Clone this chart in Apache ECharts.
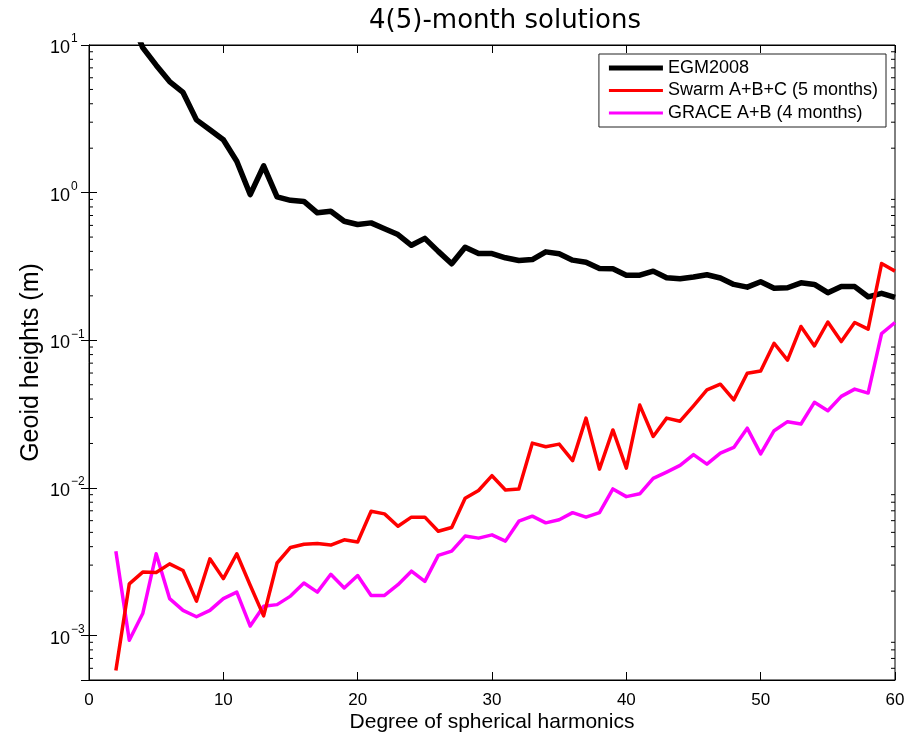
<!DOCTYPE html>
<html>
<head>
<meta charset="utf-8">
<script src="https://cdn.jsdelivr.net/npm/echarts@6/dist/echarts.min.js"></script>
<style>html,body{margin:0;padding:0;background:#fff;}#c{width:917px;height:738px;}</style>
</head>
<body>
<div id="c"></div>
<script>
const titleText = '4(5)-month solutions';
const seriesNames = ['EGM2008', 'Swarm A+B+C (5 months)', 'GRACE A+B (4 months)'];
const degrees = [2,3,4,5,6,7,8,9,10,11,12,13,14,15,16,17,18,19,20,21,22,23,24,25,26,27,28,29,30,31,32,33,34,35,36,37,38,39,40,41,42,43,44,45,46,47,48,49,50,51,52,53,54,55,56,57,58,59,60];
const egm2008 = [40,16,9.6,7.3,5.65,4.77,3.11,2.67,2.28,1.63,0.97,1.52,0.935,0.887,0.872,0.73,0.748,0.64,0.608,0.624,0.57,0.52,0.44,0.49,0.40,0.33,0.427,0.387,0.387,0.362,0.347,0.352,0.397,0.385,0.349,0.338,0.306,0.305,0.276,0.276,0.294,0.265,0.261,0.268,0.278,0.264,0.239,0.229,0.249,0.225,0.227,0.245,0.239,0.21,0.231,0.231,0.197,0.208,0.195];
const swarm = [5.8e-4,2.24e-3,2.69e-3,2.67e-3,3.06e-3,2.76e-3,1.71e-3,3.31e-3,2.43e-3,3.58e-3,2.19e-3,1.36e-3,3.1e-3,3.95e-3,4.15e-3,4.2e-3,4.1e-3,4.45e-3,4.3e-3,6.95e-3,6.67e-3,5.5e-3,6.34e-3,6.34e-3,5.09e-3,5.39e-3,8.5e-3,9.6e-3,1.21e-2,9.68e-3,9.84e-3,2.01e-2,1.9e-2,1.98e-2,1.53e-2,2.97e-2,1.34e-2,2.47e-2,1.36e-2,3.64e-2,2.23e-2,2.97e-2,2.83e-2,3.6e-2,4.61e-2,5.04e-2,3.95e-2,5.98e-2,6.2e-2,9.55e-2,7.33e-2,0.124,0.0916,0.133,0.098,0.132,0.119,0.331,0.294];
const grace = [3.72e-3,9.3e-4,1.41e-3,3.58e-3,1.78e-3,1.48e-3,1.34e-3,1.48e-3,1.78e-3,1.97e-3,1.16e-3,1.58e-3,1.62e-3,1.85e-3,2.27e-3,1.97e-3,2.6e-3,2.1e-3,2.55e-3,1.87e-3,1.87e-3,2.21e-3,2.73e-3,2.33e-3,3.49e-3,3.73e-3,4.72e-3,4.57e-3,4.81e-3,4.36e-3,5.95e-3,6.44e-3,5.8e-3,6.08e-3,6.8e-3,6.34e-3,6.8e-3,9.84e-3,8.73e-3,9.12e-3,1.16e-2,1.28e-2,1.42e-2,1.68e-2,1.45e-2,1.72e-2,1.88e-2,2.54e-2,1.7e-2,2.44e-2,2.81e-2,2.71e-2,3.8e-2,3.33e-2,4.17e-2,4.67e-2,4.39e-2,0.111,0.132];
const xTicks = [0,10,20,30,40,50,60];
const yDecades = [1e-3,1e-2,1e-1,1,10];
const minorMultipliers = [2,3,4,5,6,7,8,9];
const yMin = 5e-4, yMax = 10;

const FONT = 'Liberation Sans';
const pairs = arr => degrees.map((d, i) => [d, arr[i]]);
const colors = ['#000000', '#ff0000', '#ff00ff'];
const widths = [5.5, 3.5, 3.5];

const minorVals = [];
[1e-4].concat(yDecades).forEach(dec => minorMultipliers.forEach(m => {
  const v = dec * m;
  if (v > yMin * 1.0001 && v < yMax * 0.9999) minorVals.push(v);
}));

function supLabel(v) {
  const lg = Math.log10(v);
  const e = Math.round(lg);
  if (Math.abs(lg - e) > 1e-6) return '';
  const es = e < 0 ? '\u2212' + Math.abs(e) : String(e);
  return '{b|10}{s|' + es + '}';
}

const chart = echarts.init(document.getElementById('c'), null, {renderer: 'canvas'});
const option = {
  backgroundColor: '#fff',
  animation: false,
  title: {
    text: titleText, left: 500, top: 3, textAlign: 'center',
    textStyle: {fontFamily: 'DejaVu Sans', fontSize: 26, fontWeight: 'normal', color: '#000'}
  },
  legend: {
    data: seriesNames.map((n, i) => ({
      name: n,
      icon: 'path://M0,0 H54 V' + (i === 0 ? 5 : 3) + ' H0 Z',
      itemStyle: {color: colors[i], borderWidth: 0}
    })),
    orient: 'vertical',
    right: 31, top: 54,
    backgroundColor: '#fff',
    borderColor: '#222', borderWidth: 1, borderRadius: 0,
    padding: [5, 8, 5, 10],
    itemWidth: 54, itemHeight: 16, itemGap: 4.5,
    symbolKeepAspect: true,
    textStyle: {fontFamily: FONT, fontSize: 18, lineHeight: 18, color: '#000'}
  },
  grid: {left: 89, right: 22, top: 45, bottom: 57, show: true, borderColor: '#000', borderWidth: 1, backgroundColor: 'transparent'},
  xAxis: [{
    type: 'value', min: 0, max: 60, interval: 10,
    axisLine: {show: true, lineStyle: {color: '#000', width: 1}},
    axisTick: {show: true, inside: true, length: 8, lineStyle: {color: '#000'}},
    axisLabel: {fontFamily: FONT, fontSize: 17, color: '#000', margin: 12,
      formatter: v => xTicks.indexOf(v) >= 0 ? String(v) : ''},
    splitLine: {show: false},
    name: 'Degree of spherical harmonics', nameLocation: 'middle', nameGap: 32,
    nameMoveOverlap: false,
    nameTextStyle: {fontFamily: FONT, fontSize: 21, color: '#000'}
  }, {
    type: 'value', min: 0, max: 60, interval: 10, position: 'top',
    axisLine: {show: true, lineStyle: {color: '#000', width: 1}},
    axisTick: {show: true, inside: true, length: 8, lineStyle: {color: '#000'}},
    axisLabel: {show: false}, splitLine: {show: false}
  }],
  yAxis: [{
    type: 'log', logBase: 10, min: yMin, max: yMax,
    axisLine: {show: true, lineStyle: {color: '#000', width: 1}},
    axisTick: {show: true, inside: true, length: 8, lineStyle: {color: '#000'}},
    axisLabel: {formatter: supLabel, margin: 39, align: 'left', color: '#000',
      rich: {
        b: {fontFamily: FONT, fontSize: 18, color: '#000', lineHeight: 24, verticalAlign: 'bottom'},
        s: {fontFamily: FONT, fontSize: 12, color: '#000', lineHeight: 24, verticalAlign: 'top', padding: [0, 0, 7, 1]}
      }},
    splitLine: {show: false},
    name: 'Geoid heights (m)', nameLocation: 'middle', nameGap: 45,
    nameMoveOverlap: false,
    nameTextStyle: {fontFamily: FONT, fontSize: 25, color: '#000'}
  }, {
    type: 'log', logBase: 10, min: yMin, max: yMax, position: 'right',
    axisLine: {show: true, lineStyle: {color: '#000', width: 1}},
    axisTick: {show: true, inside: true, length: 8, lineStyle: {color: '#000'}},
    axisLabel: {show: false}, splitLine: {show: false}
  }],
  series: [
    {
      name: seriesNames[0], type: 'line', data: pairs(egm2008), symbol: 'none', clip: true,
      lineStyle: {color: colors[0], width: widths[0], join: 'round'}, itemStyle: {color: colors[0]}, z: 3
    },
    {
      name: seriesNames[1], type: 'line', data: pairs(swarm), symbol: 'none', clip: true,
      lineStyle: {color: colors[1], width: widths[1], join: 'round'}, itemStyle: {color: colors[1]}, z: 4
    },
    {
      name: seriesNames[2], type: 'line', data: pairs(grace), symbol: 'none', clip: true,
      lineStyle: {color: colors[2], width: widths[2], join: 'round'}, itemStyle: {color: colors[2]}, z: 2
    },
    {
      name: 'minorTicks', type: 'custom', silent: true, z: 1,
      data: minorVals.map(v => [0, v]),
      renderItem: function (params, api) {
        const v = api.value(1);
        const pl = api.coord([0, v]);
        const pr = api.coord([60, v]);
        return {
          type: 'group',
          children: [
            {type: 'line', shape: {x1: pl[0], y1: pl[1], x2: pl[0] + 4, y2: pl[1]}, style: {stroke: '#000', lineWidth: 1}},
            {type: 'line', shape: {x1: pr[0], y1: pr[1], x2: pr[0] - 4, y2: pr[1]}, style: {stroke: '#000', lineWidth: 1}}
          ]
        };
      }
    }
  ]
};
chart.setOption(option);
</script>
</body>
</html>
